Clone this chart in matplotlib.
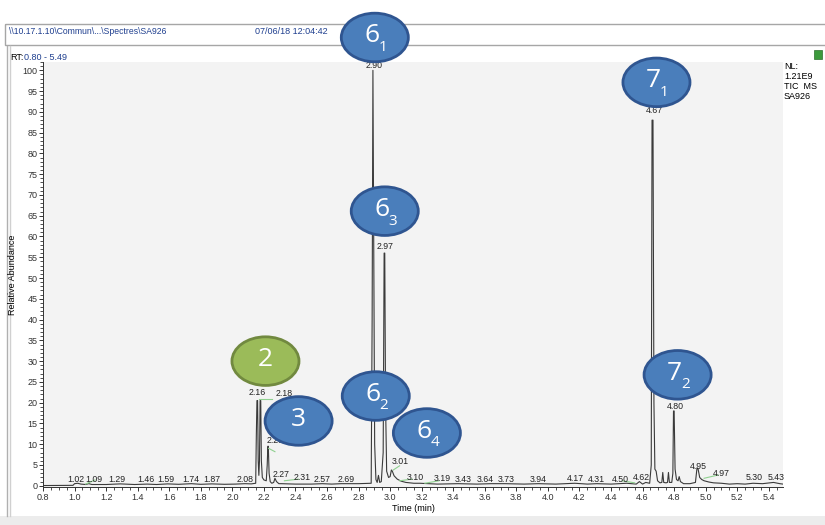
import matplotlib
matplotlib.use("Agg")
import matplotlib.pyplot as plt
from matplotlib.patches import Ellipse, Rectangle
from matplotlib.ticker import MultipleLocator

plt.rcParams['font.family'] = ['Liberation Sans', 'DejaVu Sans']

# TIC trace (time in min, relative abundance in %)
trace_time = [0.80, 0.99, 1.00, 1.02, 1.04, 1.07, 1.09, 1.11, 1.20, 1.29, 1.38, 1.46, 1.52,
              1.59, 1.66, 1.74, 1.80, 1.87, 1.95, 2.02, 2.08, 2.12,
              2.148, 2.152, 2.156, 2.160, 2.164, 2.168, 2.172, 2.176, 2.180, 2.184, 2.190,
              2.200, 2.215, 2.221, 2.225, 2.228, 2.233, 2.240, 2.250, 2.262, 2.270, 2.280,
              2.295, 2.31, 2.40, 2.50, 2.57, 2.63, 2.69, 2.80,
              2.880, 2.886, 2.891, 2.896, 2.902, 2.910, 2.918, 2.926, 2.934, 2.944, 2.956,
              2.962, 2.966, 2.971, 2.978, 2.990, 3.000, 3.008, 3.014, 3.025, 3.045, 3.07,
              3.10, 3.15, 3.19, 3.30, 3.43, 3.55, 3.64, 3.73, 3.85, 3.94, 4.05, 4.17, 4.25,
              4.31, 4.40, 4.50, 4.56, 4.58, 4.60, 4.62, 4.645,
              4.655, 4.660, 4.666, 4.672, 4.678, 4.686, 4.695, 4.710, 4.722, 4.728, 4.734,
              4.748, 4.758, 4.764, 4.770, 4.785, 4.792, 4.796, 4.800, 4.806, 4.815, 4.825,
              4.832, 4.840, 4.860, 4.90, 4.935, 4.945, 4.952, 4.962, 4.975, 4.990, 5.02,
              5.05, 5.10, 5.15, 5.20, 5.25, 5.30, 5.36, 5.43, 5.47, 5.49]
trace_abund = [0.05, 0.1, 0.5, 0.6, 0.4, 0.3, 0.5, 0.3, 0.3, 0.45, 0.3, 0.4, 0.3,
               0.45, 0.35, 0.5, 0.35, 0.45, 0.35, 0.4, 0.5, 0.45,
               0.6, 12, 20.5, 20.5, 6, 2.5, 6, 20.5, 20.5, 6, 2.0,
               1.4, 1.2, 5, 9.5, 9.5, 3, 1.0, 0.6, 0.8, 1.8, 1.0,
               0.5, 0.5, 0.4, 0.4, 0.5, 0.4, 0.5, 0.5,
               0.6, 40, 100, 60, 10, 1.5, 0.8, 2.5, 0.8, 1.0, 8,
               56, 56, 20, 3.5, 2.0, 2.2, 3.8, 3.5, 2.4, 1.6, 1.1,
               0.8, 0.6, 0.6, 0.4, 0.5, 0.4, 0.5, 0.5, 0.4, 0.5, 0.4, 0.6, 0.4,
               0.5, 0.4, 0.6, 0.4, 1.0, 0.4, 0.8, 0.6,
               5, 88, 88, 20, 4, 3.5, 1.2, 0.7, 0.8, 3.2, 0.8,
               0.7, 0.8, 3.2, 0.8, 0.8, 3, 18, 18, 4, 1.5, 1.2,
               2.2, 1.0, 0.5, 0.5, 0.8, 4.3, 4.0, 2.0, 1.5, 1.2, 0.9,
               0.7, 0.6, 0.4, 0.5, 0.4, 0.6, 0.5, 0.8, 0.5, 0.4]

# peak labels: text, x (min), y (%)
label_text = ["1.02", "1.09", "1.29", "1.46", "1.59", "1.74", "1.87", "2.08", "2.16", "2.18",
              "2.23", "2.27", "2.31", "2.57", "2.69", "2.90", "2.97", "3.01", "3.10", "3.19",
              "3.43", "3.64", "3.73", "3.94", "4.17", "4.31", "4.50", "4.62", "4.67", "4.80",
              "4.95", "4.97", "5.30", "5.43"]
label_x = [1.01, 1.12, 1.27, 1.45, 1.58, 1.74, 1.87, 2.08, 2.16, 2.33,
           2.27, 2.31, 2.44, 2.57, 2.72, 2.90, 2.97, 3.065, 3.16, 3.33,
           3.465, 3.60, 3.735, 3.94, 4.175, 4.31, 4.46, 4.595, 4.675, 4.81,
           4.955, 5.10, 5.31, 5.445]
label_y = [1.5, 1.5, 1.5, 1.5, 1.5, 1.5, 1.5, 1.5, 22.4, 22.1,
           10.8, 2.6, 1.9, 1.5, 1.5, 101.2, 57.7, 5.8, 1.9, 1.7,
           1.6, 1.6, 1.6, 1.5, 1.7, 1.6, 1.6, 1.9, 90.4, 19.0,
           4.6, 2.9, 2.1, 2.1]

# green integration marks
green_t0 = [1.07, 2.17, 2.23, 2.33, 3.02, 3.06, 3.22, 4.47, 4.99]
green_t1 = [1.13, 2.25, 2.27, 2.42, 3.06, 3.14, 3.31, 4.55, 5.08]
green_y0 = [0.4, 20.8, 9.0, 1.2, 3.8, 1.2, 0.6, 1.2, 1.8]
green_y1 = [1.4, 20.8, 8.2, 1.6, 4.8, 1.6, 1.2, 0.7, 2.6]

# numbered callouts: main digit, subscript, anchor time, anchor abundance, colour
callout_num = ["6", "7", "6", "2", "3", "6", "6", "7"]
callout_sub = ["1", "1", "3", "", "", "2", "4", "2"]
callout_t = [2.903, 4.688, 2.966, 2.210, 2.420, 2.909, 3.233, 4.822]
callout_y = [107.9, 97.1, 66.1, 30.0, 15.6, 21.6, 12.7, 26.7]
callout_kind = ["blue", "blue", "blue", "green", "blue", "blue", "blue", "blue"]

fig = plt.figure(figsize=(8.25, 5.25), dpi=100)
fig.patch.set_facecolor("white")

# window frame drawn in pixel space
frame = fig.add_axes([0, 0, 1, 1], zorder=0)
frame.set_xlim(0, 825)
frame.set_ylim(525, 0)
frame.axis("off")
frame.add_patch(Rectangle((5, 24), 822, 21, fill=False, edgecolor="#a6a6a6", lw=1))
frame.plot([7, 7], [46, 516], color="#b0b0b0", lw=1)
frame.plot([10, 10], [46, 516], color="#d0d0d0", lw=1)
frame.add_patch(Rectangle((0, 516), 825, 9, facecolor="#ececec", edgecolor="none"))
frame.add_patch(Rectangle((814, 50), 8, 9, facecolor="#3c9a3c", edgecolor="#2d6e2d", lw=0.5))
frame.text(9, 31, "\\\\10.17.1.10\\Commun\\...\\Spectres\\SA926", fontsize=6.2,
           color="#1f3f8f", va="center", ha="left")
frame.text(255, 31, "07/06/18 12:04:42", fontsize=6.5, color="#1f3f8f", va="center")
frame.text(10, 57, "RT:", fontsize=6.5, color="black", va="center")
frame.text(24, 57, "0.80 - 5.49", fontsize=6.5, color="#1f3f8f", va="center")
frame.text(784, 62, "NL:\n1.21E9\nTIC  MS\nSA926", fontsize=6.5, color="black",
           va="top", ha="left", linespacing=1.15)

ax = fig.add_axes([43 / 825, 1 - 487 / 525, 740 / 825, 425 / 525], zorder=2)
ax.set_facecolor("#f3f3f3")
ax.plot(trace_time, trace_abund, color="#3a3a3a", lw=0.8)
for a, b, c, d in zip(green_t0, green_t1, green_y0, green_y1):
    ax.plot([a, b], [c, d], color="#8fd08f", lw=0.8)
for s, x, y in zip(label_text, label_x, label_y):
    ax.text(x, y, s, fontsize=6.3, ha="center", va="center", color="#222222")

ax.set_xlim(0.80, 5.49)
ax.set_ylim(-0.3, 102)
ax.xaxis.set_minor_locator(MultipleLocator(0.05))
ax.yaxis.set_minor_locator(MultipleLocator(1))
ax.set_xticks([0.8 + 0.2 * i for i in range(24)])
ax.set_xticklabels(["%.1f" % (0.8 + 0.2 * i) for i in range(24)])
ax.set_yticks(range(0, 101, 5))
ax.tick_params(which="major", length=3, width=0.7, labelsize=6.5, pad=1, colors="#333333")
ax.tick_params(which="minor", length=2, width=0.6, colors="#333333")
for side in ["top", "right"]:
    ax.spines[side].set_visible(False)
for side in ["left", "bottom"]:
    ax.spines[side].set_color("#333333")
    ax.spines[side].set_linewidth(0.7)
ax.set_xlabel("Time (min)", fontsize=6.5, labelpad=2)
ax.set_ylabel("Relative Abundance", fontsize=6.5, labelpad=4)

# callout ellipses
for num, sub, t, y, kind in zip(callout_num, callout_sub, callout_t, callout_y, callout_kind):
    if kind == "green":
        face, edge = "#9bbb59", "#71893f"
    else:
        face, edge = "#4a7ebb", "#2f5590"
    ax.add_patch(Ellipse((t, y), 0.425, 11.7, facecolor=face, edgecolor=edge, lw=2,
                         clip_on=False, zorder=5))
    if sub:
        ax.text(t - 0.018, y + 0.4, num, fontsize=19, color="white", ha="center",
                va="center", family="Open Sans", clip_on=False, zorder=6)
        ax.text(t + 0.05, y - 2.4, sub, fontsize=11, color="white", ha="center",
                va="center", family="Open Sans", clip_on=False, zorder=6)
    else:
        ax.text(t, y + 0.4, num, fontsize=19, color="white", ha="center", va="center",
                family="Open Sans", clip_on=False, zorder=6)

plt.savefig("out.png", dpi=100)
